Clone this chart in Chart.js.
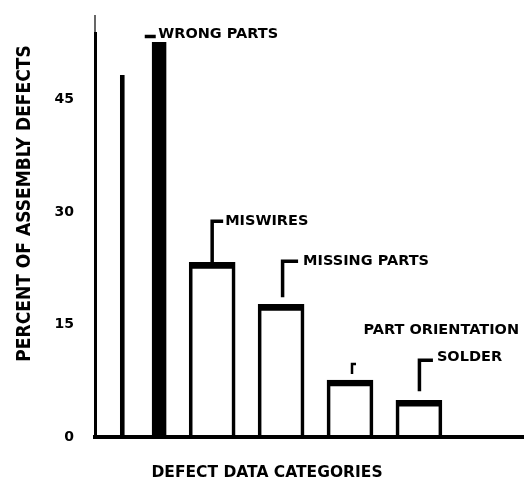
<!DOCTYPE html>
<html>
<head>
<meta charset="utf-8">
<script src="https://cdn.jsdelivr.net/npm/chart.js@4"></script>
<style>
  html, body { margin: 0; padding: 0; background: #fff; }
</style>
</head>
<body>
<canvas id="chart" width="529" height="485"></canvas>
<script>
const categories = ['WRONG PARTS', 'MISWIRES', 'MISSING PARTS', 'PART ORIENTATION', 'SOLDER'];
const defectPct = [52.7, 23.3, 17.7, 7.6, 4.9];
// left edge of the first bar is cut short in the scan
const wrongPartsEdge = [48.3];
const yTicks = [0, 15, 30, 45];

const black = '#000';
const clear = 'rgba(0,0,0,0)';

// leader lines and label anchors, relative to each bar's top centre
const callouts = {
    'WRONG PARTS':      { path: [[1.5, -5.5], [12.5, -5.5]], text: [15, -8] },
    'MISWIRES':         { path: [[0, 0], [0, -41], [11, -41]], text: [13, -41] },
    'MISSING PARTS':    { path: [[1.5, -7], [1.5, -43], [17, -43]], text: [22, -43] },
    'PART ORIENTATION': { path: [[2, -6], [2, -16], [6, -16]], text: [13.5, -50], width: 2.5 },
    'SOLDER':           { path: [[0.5, -9], [0.5, -40], [14, -40]], text: [18, -43] }
};

const decorations = {
    id: 'decorations',
    afterDatasetsDraw(chart) {
        const { ctx, chartArea } = chart;
        const bars = chart.getDatasetMeta(0).data;
        ctx.save();
        ctx.strokeStyle = black;
        ctx.fillStyle = black;
        ctx.lineCap = 'butt';
        ctx.font = 'bold 14.5px "DejaVu Sans"';
        ctx.textAlign = 'left';
        ctx.textBaseline = 'middle';
        categories.forEach((name, i) => {
            const c = callouts[name];
            const bx = bars[i].x, by = bars[i].y;
            ctx.lineWidth = c.width || 3.5;
            ctx.beginPath();
            c.path.forEach(([dx, dy], k) => k ? ctx.lineTo(bx + dx, by + dy) : ctx.moveTo(bx + dx, by + dy));
            ctx.stroke();
            ctx.fillText(name, bx + c.text[0], by + c.text[1]);
        });

        // thin stub of the y axis above the thick part
        ctx.lineWidth = 1.2;
        ctx.beginPath();
        ctx.moveTo(chartArea.left, chartArea.top);
        ctx.lineTo(chartArea.left, chartArea.top - 18);
        ctx.stroke();

        // axis titles
        ctx.textAlign = 'center';
        ctx.font = 'bold 15.5px "DejaVu Sans"';
        ctx.fillText('DEFECT DATA CATEGORIES', chartArea.left + 172, chartArea.bottom + 36);

        ctx.font = 'bold 19px "DejaVu Sans Condensed", "DejaVu Sans"';
        ctx.translate(chartArea.left - 69.5, chartArea.top + 170.5);
        ctx.rotate(-Math.PI / 2);
        ctx.fillText('PERCENT OF ASSEMBLY DEFECTS', 0, 0);
        ctx.restore();
    }
};

new Chart(document.getElementById('chart'), {
    type: 'bar',
    data: {
        datasets: [{
            label: 'Percent of assembly defects',
            data: categories.map((c, i) => ({ x: i, y: defectPct[i] })),
            backgroundColor: clear,
            borderColor: black,
            borderWidth: ctx => ctx.dataIndex === 0
                ? { top: 0, right: 14, bottom: 0, left: 0 }
                : { top: 6, right: 3, bottom: 0, left: 3 },
            borderSkipped: false,
            barThickness: 46,
            grouped: false
        }, {
            label: 'edge',
            data: wrongPartsEdge.map((v, i) => ({ x: i, y: v })),
            backgroundColor: clear,
            borderColor: black,
            borderWidth: { top: 0, right: 0, bottom: 0, left: 4 },
            borderSkipped: false,
            barThickness: 46,
            grouped: false
        }]
    },
    options: {
        responsive: false,
        animation: false,
        layout: { padding: { top: 33, right: 6, left: 0, bottom: 0 } },
        plugins: { legend: { display: false }, tooltip: { enabled: false } },
        scales: {
            x: {
                type: 'linear',
                offset: false,
                min: -0.70,
                max: 5.51,
                grid: { display: false },
                ticks: { display: false },
                border: { color: black, width: 4 },
                afterFit: s => { s.height = 48; }
            },
            y: {
                min: 0,
                max: 53.9,
                grid: { display: false },
                border: { color: black, width: 3 },
                ticks: {
                    color: black,
                    padding: 13,
                    font: { family: 'DejaVu Sans', size: 14, weight: 'bold' }
                },
                afterBuildTicks: s => { s.ticks = yTicks.map(v => ({ value: v })); },
                afterFit: s => { s.width = 95; }
            }
        }
    },
    plugins: [decorations]
});
</script>
</body>
</html>
